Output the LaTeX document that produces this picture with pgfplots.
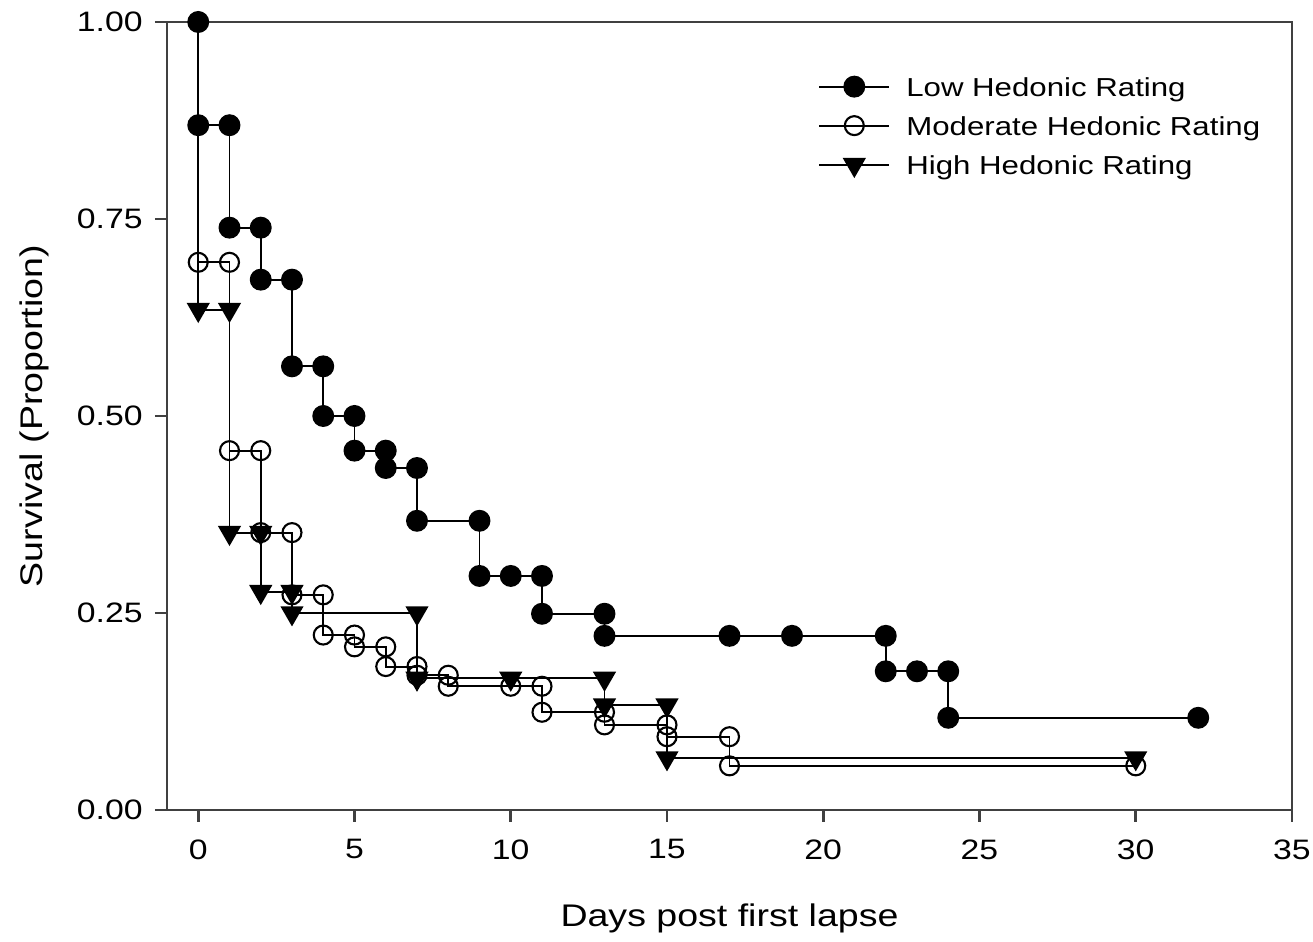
\documentclass[border=0pt]{standalone}
\usepackage{fontspec}
\setmainfont{Liberation Sans}[FakeStretch=1.2]
\usepackage{pgfplots}
\pgfplotsset{compat=1.18}

\begin{document}
\begin{tikzpicture}
\begin{axis}[
    scale only axis,
    width=112.5mm, height=78.8mm,
    xmin=-1, xmax=35, ymin=0, ymax=1,
    xtick={0,5,...,35},
    ytick={0,0.25,0.5,0.75,1},
    yticklabel style={/pgf/number format/.cd, fixed, fixed zerofill, precision=2},
    xticklabel style={yshift=-0.5mm},
    /pgf/number format/assume math mode=true,
    tick label style={font=\fontsize{8}{10}\selectfont},
    xtick pos=bottom, ytick pos=left,
    tick align=outside,
    major tick length=1.2mm,
    axis line style={black!75, line width=0.8pt},
    tick style={black!75, line width=0.8pt},
    xlabel={Days post first lapse},
    ylabel={Survival (Proportion)},
    label style={font=\fontsize{8.9}{11}\selectfont},
    xlabel style={at={(axis description cs:0.5,-0.138)}, anchor=center},
    ylabel style={at={(axis description cs:-0.118,0.5)}, anchor=center},
    clip=false,
    legend cell align=left,
    legend style={at={(axis description cs:0.569,0.9525)}, anchor=north west,
        draw=none, fill=none, font=\fontsize{7.4}{9}\selectfont,
        row sep=0pt, column sep=0.9mm,
        nodes={inner ysep=0pt, text height=2.9mm, text depth=1.0mm}},
    legend image code/.code={
        \draw[mark repeat=2, mark phase=2, #1]
            plot coordinates {(0mm,0mm) (3.5mm,0mm) (7mm,0mm)};},
]
% Low hedonic rating
\addplot[black, line width=0.55pt, mark=*, mark size=1mm,
    mark options={solid, fill=black}] coordinates {
    (0,1.000) (0,0.869) (1,0.869) (1,0.739) (2,0.739) (2,0.673)
    (3,0.673) (3,0.563) (4,0.563) (4,0.500) (5,0.500) (5,0.456)
    (6,0.456) (6,0.434) (7,0.434) (7,0.367) (9,0.367) (9,0.297)
    (10,0.297) (11,0.297) (11,0.249) (13,0.249) (13,0.221) (17,0.221)
    (19,0.221) (22,0.221) (22,0.176) (23,0.176) (24,0.176) (24,0.117)
    (32,0.117)};
\addlegendentry{Low Hedonic Rating}
% Moderate hedonic rating
\addplot[black, line width=0.55pt, mark=o, mark size=0.95mm,
    mark repeat=1, mark phase=2,
    mark options={solid, fill=white, line width=0.6pt}] coordinates {
    (0,1.000) (0,0.695) (1,0.695) (1,0.456) (2,0.456) (2,0.352)
    (3,0.352) (3,0.273) (4,0.273) (4,0.222) (5,0.222) (5,0.207)
    (6,0.207) (6,0.182) (7,0.182) (7,0.171) (8,0.171) (8,0.157)
    (10,0.157) (11,0.157) (11,0.124) (13,0.124) (13,0.108) (15,0.108)
    (15,0.093) (17,0.093) (17,0.056) (30,0.056)};
\addlegendentry{Moderate Hedonic Rating}
% High hedonic rating
\addplot[black, line width=0.55pt, mark=triangle*, mark size=1.15mm,
    mark repeat=1, mark phase=2,
    mark options={solid, fill=black, rotate=180}] coordinates {
    (0,1.000) (0,0.635) (1,0.635) (1,0.352) (2,0.352) (2,0.277)
    (3,0.277) (3,0.250) (7,0.250) (7,0.167) (10,0.167) (13,0.167)
    (13,0.133) (15,0.133) (15,0.066) (30,0.066)};
\addlegendentry{High Hedonic Rating}
\end{axis}
\pgfresetboundingbox
\path[use as bounding box] (-16.7mm,-13.2mm) rectangle (114.6mm,81.0mm);
\end{tikzpicture}
\end{document}
